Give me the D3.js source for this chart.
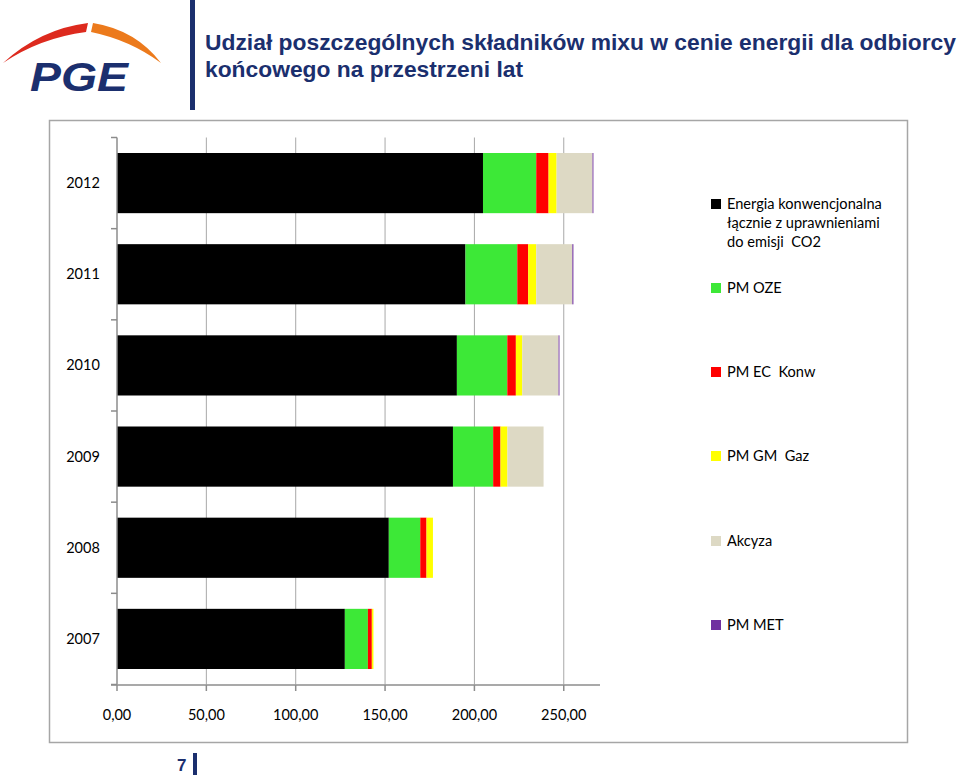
<!DOCTYPE html>
<html><head><meta charset="utf-8">
<script src="https://cdn.jsdelivr.net/npm/d3@7"></script>
<style>body{margin:0;background:#fff}svg{display:block}</style>
</head><body>
<svg id="c" width="960" height="775"></svg>
<script>
const years = ["2012","2011","2010","2009","2008","2007"];
const seriesNames = ["Energia konwencjonalna łącznie z uprawnieniami do emisji CO2","PM OZE","PM EC Konw","PM GM Gaz","Akcyza","PM MET"];
const seriesColors = ["#000000","#3de837","#ff0000","#ffff00","#ddd9c4","#7030a0"];
const energia = [204.8,195.0,190.2,188.0,152.1,127.5];
const pmOze   = [29.8,29.0,28.2,22.5,17.6,12.9];
const pmEc    = [6.9,6.1,4.8,4.1,3.5,2.2];
const pmGm    = [4.5,4.5,3.6,3.9,3.6,0.9];
const akcyza  = [20.1,20.2,20.3,20.2,0,0];
const pmMet   = [0.5,0.6,0.5,0,0,0];
const xTicks = [0,50,100,150,200,250];
const title1 = "Udział poszczególnych składników mixu w cenie energii dla odbiorcy";
const title2 = "końcowego na przestrzeni lat";

const svg = d3.select("#c");
const navy = "#1b2f6e";

// Logo
const logo = svg.append("g");
logo.append("path").attr("d","M3,63 Q40,29 88,23 L86,32 Q40,38 3,63 Z").attr("fill","#dd2a1e");
logo.append("path").attr("d","M93,23 Q136,30 161,63 Q130,40 91,32 Z").attr("fill","#ec7a1c");
logo.append("text").attr("x",30).attr("y",91).attr("font-family","Liberation Sans, Arial, sans-serif")
  .attr("font-weight","bold").attr("font-style","italic").attr("font-size",40).attr("fill",navy)
  .attr("textLength",98).attr("lengthAdjust","spacingAndGlyphs").text("PGE");

// header bar and title
svg.append("rect").attr("x",190).attr("y",0).attr("width",5).attr("height",110).attr("fill",navy);
svg.append("text").attr("x",205).attr("y",50).attr("font-family","Liberation Sans, Arial, sans-serif")
  .attr("font-weight","bold").attr("font-size",22).attr("fill",navy)
  .attr("textLength",751).attr("lengthAdjust","spacingAndGlyphs").text(title1);
svg.append("text").attr("x",205).attr("y",77).attr("font-family","Liberation Sans, Arial, sans-serif")
  .attr("font-weight","bold").attr("font-size",22).attr("fill",navy)
  .attr("textLength",318).attr("lengthAdjust","spacingAndGlyphs").text(title2);

// chart frame
svg.append("rect").attr("x",49.5).attr("y",120.5).attr("width",858).attr("height",622)
  .attr("fill","none").attr("stroke","#a6a6a6").attr("stroke-width",1.5);

const x = d3.scaleLinear().domain([0,270]).range([117,599.5]);
const y = d3.scaleBand().domain(years).range([137.5,684.5]).paddingInner(0.34).paddingOuter(0.17);

// gridlines
svg.append("g").selectAll("line").data(xTicks.slice(1)).join("line")
  .attr("x1",d=>x(d)).attr("x2",d=>x(d)).attr("y1",137.5).attr("y2",684.5)
  .attr("stroke","#a8a8a8").attr("stroke-width",1);

// stacked bars
const table = years.map((yr,i)=>({year:yr, s0:energia[i], s1:pmOze[i], s2:pmEc[i], s3:pmGm[i], s4:akcyza[i], s5:pmMet[i]}));
const keys = ["s0","s1","s2","s3","s4","s5"];
const stack = d3.stack().keys(keys)(table);
svg.append("g").selectAll("g").data(stack).join("g").attr("fill",(d,i)=>seriesColors[i])
  .selectAll("rect").data(d=>d).join("rect")
  .attr("x",d=>x(d[0])).attr("width",d=>Math.max(0,x(d[1])-x(d[0])))
  .attr("y",d=>y(d.data.year)).attr("height",y.bandwidth());

// y axis
const yAx = svg.append("g");
yAx.append("line").attr("x1",117).attr("x2",117).attr("y1",137.5).attr("y2",684.5).attr("stroke","#8c8c8c").attr("stroke-width",1.5);
const bounds = d3.range(years.length+1).map(i=>137.5+i*(684.5-137.5)/years.length);
yAx.selectAll("line.t").data(bounds).join("line").attr("class","t")
  .attr("x1",111).attr("x2",117).attr("y1",d=>d).attr("y2",d=>d).attr("stroke","#8c8c8c").attr("stroke-width",1.5);
yAx.selectAll("text").data(years).join("text")
  .attr("x",83).attr("y",d=>y(d)+y.bandwidth()/2+5).attr("text-anchor","middle")
  .attr("font-family","Lato, Carlito, sans-serif").attr("font-size",14.5).attr("fill","#000").text(d=>d);

// x axis
const xAx = svg.append("g");
xAx.append("line").attr("x1",111).attr("x2",600).attr("y1",685).attr("y2",685).attr("stroke","#8c8c8c").attr("stroke-width",1.5);
xAx.selectAll("line.t").data(xTicks).join("line").attr("class","t")
  .attr("x1",d=>x(d)).attr("x2",d=>x(d)).attr("y1",685).attr("y2",691).attr("stroke","#8c8c8c").attr("stroke-width",1.5);
const fmt = v => d3.format(".2f")(v).replace(".",",");
xAx.selectAll("text").data(xTicks).join("text")
  .attr("x",d=>x(d)).attr("y",720).attr("text-anchor","middle")
  .attr("font-family","Lato, Carlito, sans-serif").attr("font-size",14.5).attr("fill","#000").text(fmt);

// legend
const legY = [204,288,372,456,541,625];
const leg = svg.append("g");
seriesNames.forEach((n,i)=>{
  leg.append("rect").attr("x",711).attr("y",legY[i]-5).attr("width",10).attr("height",10).attr("fill",seriesColors[i]);
});
const legLines = [["Energia konwencjonalna","łącznie z uprawnieniami","do emisji  CO2"],["PM OZE"],["PM EC  Konw"],["PM GM  Gaz"],["Akcyza"],["PM MET"]];
legLines.forEach((ls,i)=>{
  ls.forEach((t,j)=>{
    leg.append("text").attr("x",727).attr("y",legY[i]+5+j*19).attr("font-family","Lato, Carlito, sans-serif")
      .attr("font-size",14.6).attr("fill","#000").attr("xml:space","preserve").text(t);
  });
});

// page number
svg.append("text").attr("x",177).attr("y",771).attr("font-family","Liberation Sans, Arial, sans-serif")
  .attr("font-weight","bold").attr("font-size",17).attr("fill",navy).text("7");
svg.append("rect").attr("x",193).attr("y",753).attr("width",4).attr("height",22).attr("fill",navy);
</script>
</body></html>
